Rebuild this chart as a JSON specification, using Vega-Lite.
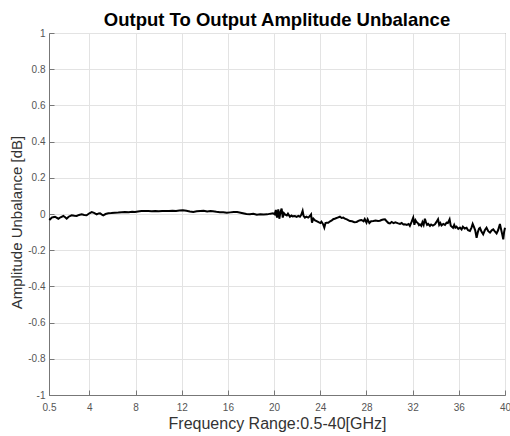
{
  "$schema": "https://vega.github.io/schema/vega-lite/v6.json",
  "width": 456,
  "height": 362,
  "autosize": {"type": "none"},
  "padding": {"left": 49, "top": 33, "right": 5, "bottom": 41},
  "background": "white",
  "title": {
    "text": "Output To Output Amplitude Unbalance",
    "font": "Liberation Sans",
    "fontSize": 18.5,
    "fontWeight": "bold",
    "color": "#000000",
    "anchor": "middle",
    "offset": -1
  },
  "config": {
    "view": {"stroke": "#777777", "strokeWidth": 1},
    "axis": {
      "labelFont": "Liberation Sans",
      "titleFont": "Liberation Sans",
      "labelColor": "#555555",
      "titleColor": "#333333",
      "labelFontSize": 10,
      "titleFontWeight": "normal",
      "gridColor": "#e3e3e3",
      "gridWidth": 1,
      "domainColor": "#777777",
      "tickColor": "#777777",
      "tickSize": -5,
      "labelExpr": "datum.value + ''"
    }
  },
  "data": {
    "values": [
      {"f": 0.5, "v": -0.028}, {"f": 0.6, "v": -0.03}, {"f": 0.73, "v": -0.02}, {"f": 0.85, "v": -0.018},
      {"f": 1.02, "v": -0.015}, {"f": 1.15, "v": -0.02}, {"f": 1.31, "v": -0.026}, {"f": 1.5, "v": -0.018},
      {"f": 1.74, "v": -0.011}, {"f": 1.9, "v": -0.018}, {"f": 2.03, "v": -0.026}, {"f": 2.2, "v": -0.015},
      {"f": 2.46, "v": -0.007}, {"f": 2.7, "v": -0.01}, {"f": 2.9, "v": -0.011}, {"f": 3.1, "v": -0.005},
      {"f": 3.33, "v": -0.002}, {"f": 3.55, "v": -0.006}, {"f": 3.76, "v": -0.007}, {"f": 4.0, "v": 0.004},
      {"f": 4.2, "v": 0.011}, {"f": 4.4, "v": 0.006}, {"f": 4.63, "v": -0.002}, {"f": 4.8, "v": 0.003},
      {"f": 4.92, "v": 0.004}, {"f": 5.05, "v": -0.002}, {"f": 5.2, "v": -0.007}, {"f": 5.4, "v": 0.0},
      {"f": 5.64, "v": 0.004}, {"f": 5.9, "v": 0.005}, {"f": 6.2, "v": 0.007}, {"f": 6.5, "v": 0.008},
      {"f": 6.8, "v": 0.01}, {"f": 7.08, "v": 0.011}, {"f": 7.4, "v": 0.01}, {"f": 7.7, "v": 0.012},
      {"f": 7.95, "v": 0.011}, {"f": 8.2, "v": 0.014}, {"f": 8.5, "v": 0.017}, {"f": 8.8, "v": 0.016},
      {"f": 9.1, "v": 0.016}, {"f": 9.4, "v": 0.015}, {"f": 9.7, "v": 0.016}, {"f": 10.0, "v": 0.015},
      {"f": 10.3, "v": 0.016}, {"f": 10.6, "v": 0.017}, {"f": 10.9, "v": 0.016}, {"f": 11.2, "v": 0.018},
      {"f": 11.5, "v": 0.017}, {"f": 11.8, "v": 0.019}, {"f": 12.1, "v": 0.021}, {"f": 12.4, "v": 0.018},
      {"f": 12.7, "v": 0.014}, {"f": 13.0, "v": 0.011}, {"f": 13.3, "v": 0.015}, {"f": 13.6, "v": 0.017},
      {"f": 13.9, "v": 0.018}, {"f": 14.2, "v": 0.014}, {"f": 14.5, "v": 0.016}, {"f": 14.7, "v": 0.015},
      {"f": 15.0, "v": 0.012}, {"f": 15.3, "v": 0.01}, {"f": 15.6, "v": 0.009}, {"f": 15.9, "v": 0.007},
      {"f": 16.2, "v": 0.009}, {"f": 16.5, "v": 0.011}, {"f": 16.8, "v": 0.011}, {"f": 17.1, "v": 0.007},
      {"f": 17.4, "v": 0.003}, {"f": 17.6, "v": 0.0}, {"f": 17.9, "v": -0.002}, {"f": 18.2, "v": 0.001},
      {"f": 18.5, "v": -0.004}, {"f": 18.8, "v": -0.002}, {"f": 19.1, "v": -0.003}, {"f": 19.4, "v": -0.002},
      {"f": 19.7, "v": 0.002}, {"f": 19.9, "v": 0.004}, {"f": 20.05, "v": -0.002}, {"f": 20.15, "v": 0.022},
      {"f": 20.25, "v": -0.02}, {"f": 20.36, "v": 0.026}, {"f": 20.45, "v": -0.026}, {"f": 20.55, "v": 0.01},
      {"f": 20.65, "v": 0.03}, {"f": 20.75, "v": -0.02}, {"f": 20.85, "v": 0.005}, {"f": 20.94, "v": -0.002},
      {"f": 21.1, "v": -0.008}, {"f": 21.2, "v": 0.002}, {"f": 21.37, "v": -0.015}, {"f": 21.5, "v": -0.008},
      {"f": 21.6, "v": -0.013}, {"f": 21.8, "v": -0.011}, {"f": 21.95, "v": -0.016}, {"f": 22.1, "v": -0.01},
      {"f": 22.24, "v": -0.015}, {"f": 22.35, "v": -0.005}, {"f": 22.47, "v": 0.017}, {"f": 22.55, "v": -0.01},
      {"f": 22.67, "v": -0.02}, {"f": 22.8, "v": -0.015}, {"f": 22.95, "v": -0.02}, {"f": 23.1, "v": -0.011},
      {"f": 23.2, "v": -0.002}, {"f": 23.28, "v": -0.048}, {"f": 23.4, "v": -0.025}, {"f": 23.55, "v": -0.035},
      {"f": 23.68, "v": -0.039}, {"f": 23.85, "v": -0.045}, {"f": 24.0, "v": -0.05}, {"f": 24.1, "v": -0.042},
      {"f": 24.25, "v": -0.057}, {"f": 24.35, "v": -0.075}, {"f": 24.45, "v": -0.05}, {"f": 24.55, "v": -0.048},
      {"f": 24.69, "v": -0.048}, {"f": 24.85, "v": -0.04}, {"f": 25.0, "v": -0.035}, {"f": 25.12, "v": -0.029},
      {"f": 25.3, "v": -0.025}, {"f": 25.5, "v": -0.02}, {"f": 25.7, "v": -0.015}, {"f": 25.85, "v": -0.022},
      {"f": 26.0, "v": -0.02}, {"f": 26.13, "v": -0.026}, {"f": 26.3, "v": -0.03}, {"f": 26.45, "v": -0.035},
      {"f": 26.57, "v": -0.039}, {"f": 26.75, "v": -0.04}, {"f": 26.95, "v": -0.045}, {"f": 27.15, "v": -0.044},
      {"f": 27.3, "v": -0.038}, {"f": 27.45, "v": -0.035}, {"f": 27.58, "v": -0.033}, {"f": 27.75, "v": -0.04},
      {"f": 27.85, "v": -0.028}, {"f": 28.0, "v": -0.048}, {"f": 28.1, "v": -0.03}, {"f": 28.25, "v": -0.05},
      {"f": 28.4, "v": -0.04}, {"f": 28.6, "v": -0.039}, {"f": 28.8, "v": -0.036}, {"f": 29.0, "v": -0.038},
      {"f": 29.16, "v": -0.037}, {"f": 29.3, "v": -0.033}, {"f": 29.45, "v": -0.03}, {"f": 29.6, "v": -0.029},
      {"f": 29.75, "v": -0.04}, {"f": 29.9, "v": -0.05}, {"f": 30.03, "v": -0.052}, {"f": 30.18, "v": -0.044},
      {"f": 30.35, "v": -0.05}, {"f": 30.5, "v": -0.046}, {"f": 30.75, "v": -0.052}, {"f": 30.9, "v": -0.055},
      {"f": 31.05, "v": -0.05}, {"f": 31.2, "v": -0.058}, {"f": 31.33, "v": -0.057}, {"f": 31.5, "v": -0.06},
      {"f": 31.65, "v": -0.055}, {"f": 31.76, "v": -0.066}, {"f": 31.9, "v": -0.045}, {"f": 32.05, "v": -0.02},
      {"f": 32.15, "v": -0.06}, {"f": 32.25, "v": -0.035}, {"f": 32.34, "v": -0.044}, {"f": 32.45, "v": -0.05},
      {"f": 32.55, "v": -0.062}, {"f": 32.63, "v": -0.057}, {"f": 32.75, "v": -0.065}, {"f": 32.85, "v": -0.045},
      {"f": 32.95, "v": -0.06}, {"f": 33.06, "v": -0.026}, {"f": 33.15, "v": -0.045}, {"f": 33.25, "v": -0.06},
      {"f": 33.35, "v": -0.055}, {"f": 33.5, "v": -0.066}, {"f": 33.6, "v": -0.058}, {"f": 33.75, "v": -0.064},
      {"f": 33.93, "v": -0.057}, {"f": 34.05, "v": -0.045}, {"f": 34.2, "v": -0.029}, {"f": 34.3, "v": -0.06},
      {"f": 34.4, "v": -0.05}, {"f": 34.5, "v": -0.063}, {"f": 34.65, "v": -0.055}, {"f": 34.8, "v": -0.06},
      {"f": 34.94, "v": -0.048}, {"f": 35.05, "v": -0.05}, {"f": 35.2, "v": -0.029}, {"f": 35.3, "v": -0.065},
      {"f": 35.4, "v": -0.07}, {"f": 35.5, "v": -0.076}, {"f": 35.6, "v": -0.06}, {"f": 35.7, "v": -0.075},
      {"f": 35.8, "v": -0.07}, {"f": 35.95, "v": -0.082}, {"f": 36.1, "v": -0.075}, {"f": 36.24, "v": -0.085},
      {"f": 36.35, "v": -0.07}, {"f": 36.5, "v": -0.08}, {"f": 36.67, "v": -0.076}, {"f": 36.8, "v": -0.09},
      {"f": 36.96, "v": -0.094}, {"f": 37.1, "v": -0.075}, {"f": 37.2, "v": -0.055}, {"f": 37.3, "v": -0.07},
      {"f": 37.42, "v": -0.09}, {"f": 37.54, "v": -0.131}, {"f": 37.65, "v": -0.1}, {"f": 37.75, "v": -0.08},
      {"f": 37.83, "v": -0.076}, {"f": 37.95, "v": -0.095}, {"f": 38.11, "v": -0.112}, {"f": 38.25, "v": -0.09},
      {"f": 38.4, "v": -0.076}, {"f": 38.55, "v": -0.095}, {"f": 38.7, "v": -0.103}, {"f": 38.85, "v": -0.09},
      {"f": 38.98, "v": -0.085}, {"f": 39.1, "v": -0.095}, {"f": 39.27, "v": -0.107}, {"f": 39.4, "v": -0.09},
      {"f": 39.56, "v": -0.055}, {"f": 39.65, "v": -0.081}, {"f": 39.75, "v": -0.11}, {"f": 39.85, "v": -0.14},
      {"f": 39.92, "v": -0.1}, {"f": 40.0, "v": -0.076}
    ]
  },
  "mark": {"type": "line", "color": "#000000", "strokeWidth": 2, "interpolate": "linear"},
  "encoding": {
    "x": {
      "field": "f",
      "type": "quantitative",
      "scale": {"domain": [0.5, 40], "nice": false, "zero": false},
      "axis": {
        "title": "Frequency Range:0.5-40[GHz]",
        "values": [0.5, 4, 8, 12, 16, 20, 24, 28, 32, 36, 40],
        "labelFlush": false,
        "labelPadding": 12,
        "titlePadding": 3,
        "titleFontSize": 16
      }
    },
    "y": {
      "field": "v",
      "type": "quantitative",
      "scale": {"domain": [-1, 1], "nice": false},
      "axis": {
        "title": "Amplitude Unbalance [dB]",
        "titleFontSize": 15,
        "titleX": -33,
        "titleY": 189,
        "titleBaseline": "middle",
        "values": [-1, -0.8, -0.6, -0.4, -0.2, 0, 0.2, 0.4, 0.6, 0.8, 1],
        "labelFlush": false,
        "labelPadding": 9
      }
    }
  }
}
